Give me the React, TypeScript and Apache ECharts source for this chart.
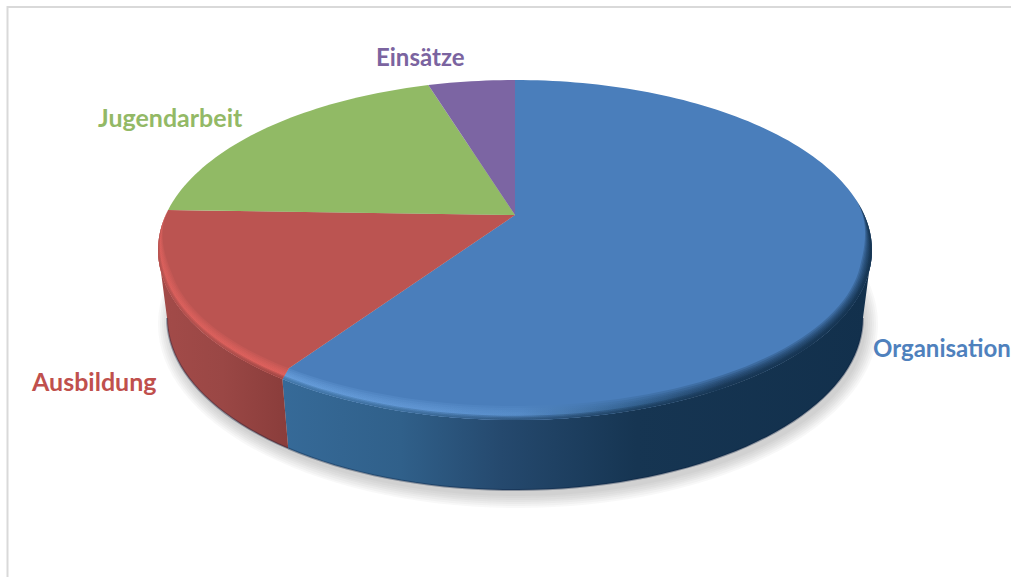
import React, { useEffect, useRef } from "react";
import * as echarts from "echarts";

const categories = ["Organisation", "Ausbildung", "Jugendarbeit", "Einsätze"];
const values = [59.3, 16.2, 19.7, 4.8];

const topColors = ["#4a7ebb", "#bb5451", "#91ba65", "#7c65a3"];
const labelColors = ["#4f81bd", "#c0504d", "#93b966", "#7b64a0"];
const labelAnchors = [[873, 347], [32, 381], [98, 117], [376, 56]];
const labelSizes = [24, 25, 25, 24];

// Perspective projection of the pie disc
const CX = 515, APEX_Y = 215, ELL_Y = 250, RX = 357, RY = 170;
const H_A = 162.8, H_C = -0.2059, H_D = 349.3;
const BOT_Y = 318, BOT_RX = 348, BOT_RY = 172;
const RIM_X = 10, RIM_Y = 14;
const VIS_START = 101.9, VIS_END = 258.1;

const rad = (d: number) => (d * Math.PI) / 180;
function topPoint(deg: number) {
  const u = Math.sin(rad(deg)), v = -Math.cos(rad(deg));
  const w = 1 + H_C * v;
  return [CX + (H_D * u) / w, APEX_Y + (H_A * v) / w];
}
function botPoint(deg: number) {
  const [x, y] = topPoint(deg);
  return [CX + ((x - CX) * BOT_RX) / RX, BOT_Y + ((y - ELL_Y) * BOT_RY) / RY];
}
function range(a: number, b: number, step = 2) {
  const n = Math.max(2, Math.ceil(Math.abs(b - a) / step));
  return Array.from({ length: n + 1 }, (_, i) => a + ((b - a) * i) / n);
}
const smooth = (t: number) => {
  const c = Math.min(1, Math.max(0, t));
  return c * c * (3 - 2 * c);
};
function rimPoint(deg: number, k: number, w: number) {
  const [x, y] = topPoint(deg);
  return [CX + (x - CX) * (1 - (RIM_X / RX) * k * w), ELL_Y + (y - ELL_Y) * (1 - (RIM_Y / RY) * k * w)];
}
const hGrad = (x0: number, x1: number, stops: [number, string][]) => ({
  type: "linear", x: x0, y: 0, x2: x1, y2: 0, global: true,
  colorStops: stops.map(([offset, color]) => ({ offset, color })),
});

const wallFills: any[] = [
  hGrad(283, 872, [[0, "#366a98"], [0.2, "#30608a"], [0.37, "#25496e"], [0.6, "#163552"], [1, "#12304c"]]),
  hGrad(158, 287, [[0, "#a34b49"], [0.5, "#9a4745"], [1, "#8a3d3b"]]),
];
const rimFills: any[] = [
  hGrad(283, 872, [[0, "#6ca3e0"], [0.25, "#659bd8"], [0.4, "#5a90cc"], [0.6, "#2c5882"], [0.75, "#14304c"], [1, "#12304c"]]),
  hGrad(158, 287, [[0, "#e2635f"], [1, "#e6645f"]]),
];
const rimTaper: ((d: number) => number)[] = [
  (d) => smooth((d - 84) / 24),
  (d) => smooth((272 - d) / 24),
];
const rimRange = [[84, null], [null, 272]] as (number | null)[][];

const rimLayers = [1, 0.85, 0.7, 0.58, 0.46, 0.36];
const edgeLayers = [0.3, 0.2, 0.1];
const shadowLayers = [12, 10, 8, 6, 4, 2, 0];

function renderShadow() {
  return {
    type: "group",
    children: shadowLayers.map((g) => ({
      type: "ellipse",
      shape: { cx: CX + 3, cy: BOT_Y + 6, rx: BOT_RX + g, ry: BOT_RY + g },
      style: { fill: "rgba(90,90,90,0.045)" },
    })),
  };
}

function renderSlice(params: any, api: any) {
  const i = params.dataIndex;
  const value = api.value(0);
  const total = values.reduce((a, b) => a + b, 0);
  const before = values.slice(0, i).reduce((a, b) => a + b, 0);
  const start = (before / total) * 360;
  const end = start + (value / total) * 360;
  const children: any[] = [];
  const inFront = (d: number) => d > VIS_START && d < VIS_END;

  // side wall
  const ws = Math.max(start, VIS_START), we = Math.min(end, VIS_END);
  if (we > ws && wallFills[i]) {
    const degs = range(ws, we);
    const top = degs.map(topPoint);
    const bot = degs.map(botPoint);
    children.push({
      type: "polygon",
      shape: { points: [...top, ...bot.slice().reverse()] },
      style: { fill: wallFills[i] },
    });
    children.push({
      type: "polyline",
      shape: { points: bot },
      style: { fill: "none", stroke: "rgba(10,30,60,0.35)", lineWidth: 2 },
    });
  }

  // top face; where a seam meets the front rim it runs to the inner edge of the rim
  const arc = range(start, end, 1.5).map(topPoint);
  const pts: number[][] = [[CX, APEX_Y]];
  if (inFront(start)) pts.push(rimPoint(start, 1, 1));
  pts.push(...arc);
  if (inFront(end)) pts.push(rimPoint(end, 1, 1));
  children.push({
    type: "polygon",
    shape: { points: pts },
    style: { fill: topColors[i] },
  });

  // bevel: nested layers so no seam shows between them
  if (rimFills[i]) {
    const a = rimRange[i][0] ?? start;
    const b = rimRange[i][1] ?? end;
    const degs = range(a, b);
    const taper = rimTaper[i];
    const band = (k: number, op: number, fill: any) => ({
      type: "polygon",
      shape: {
        points: [
          ...degs.map(topPoint),
          ...degs.slice().reverse().map((d) => rimPoint(d, k, taper(d))),
        ],
      },
      style: { fill, opacity: op },
    });
    rimLayers.forEach((k) => children.push(band(k, 0.24, rimFills[i])));
    edgeLayers.forEach((k) => children.push(band(k, 0.35, wallFills[i])));
  }

  // label
  children.push({
    type: "text",
    style: {
      text: categories[i],
      x: labelAnchors[i][0],
      y: labelAnchors[i][1],
      fill: labelColors[i],
      font: `700 ${labelSizes[i]}px Lato, 'Open Sans', sans-serif`,
      textAlign: "left",
      textVerticalAlign: "middle",
    },
  });
  return { type: "group", children };
}

export default function App() {
  const ref = useRef<HTMLDivElement>(null);
  useEffect(() => {
    if (!ref.current) return;
    const chart = echarts.init(ref.current, undefined, { renderer: "svg" });
    chart.setOption({
      animation: false,
      backgroundColor: "#ffffff",
      graphic: [
        {
          type: "rect",
          silent: true,
          shape: { x: 7.5, y: 7, width: 1100, height: 700 },
          style: { fill: "none", stroke: "#d9d9d9", lineWidth: 2 },
        },
      ],
      series: [
        { type: "custom", coordinateSystem: "none", silent: true, z: 1, data: [[0]], renderItem: renderShadow },
        {
          type: "custom",
          coordinateSystem: "none",
          silent: true,
          z: 2,
          data: values.map((v) => [v]),
          renderItem: renderSlice,
        },
      ],
    });
    return () => chart.dispose();
  }, []);
  return (
    <div
      ref={ref}
      style={{ position: "fixed", left: 0, top: 0, width: 1011, height: 577, background: "#fff" }}
    />
  );
}
